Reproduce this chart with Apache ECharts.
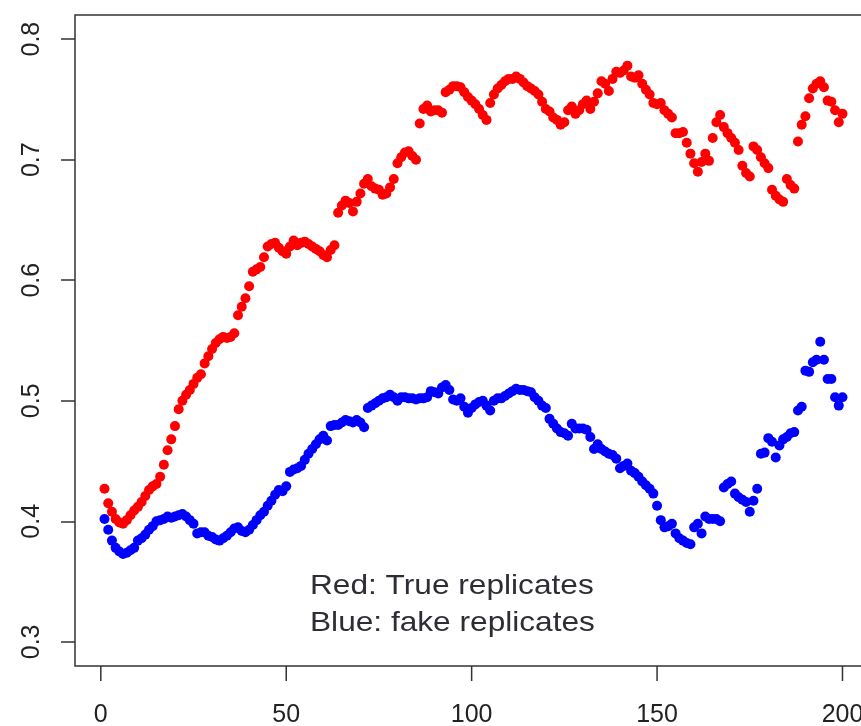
<!DOCTYPE html>
<html>
<head>
<meta charset="utf-8">
<script src="https://cdn.jsdelivr.net/npm/echarts@6/dist/echarts.min.js"></script>
<style>html,body{margin:0;padding:0;background:#fff;}#c{width:861px;height:726px;}</style>
</head>
<body>
<div id="c"></div>
<script>
// values for index 1..200
var trueReplicates = [
0.427,0.415,0.408,0.402,0.399,0.398,0.401,0.405,0.409,0.412,
0.416,0.421,0.426,0.429,0.431,0.437,0.447,0.459,0.468,0.479,
0.493,0.500,0.505,0.509,0.514,0.519,0.522,0.531,0.537,0.543,
0.548,0.551,0.553,0.552,0.553,0.556,0.571,0.578,0.585,0.595,
0.607,0.609,0.611,0.619,0.628,0.630,0.631,0.627,0.624,0.622,
0.628,0.633,0.629,0.631,0.632,0.630,0.628,0.626,0.624,0.621,
0.619,0.625,0.629,0.656,0.662,0.666,0.664,0.657,0.665,0.672,
0.680,0.684,0.678,0.676,0.675,0.671,0.672,0.677,0.684,0.697,
0.702,0.706,0.707,0.703,0.700,0.730,0.742,0.745,0.740,0.741,
0.741,0.739,0.756,0.758,0.761,0.761,0.760,0.756,0.752,0.749,
0.746,0.742,0.737,0.733,0.747,0.754,0.759,0.762,0.765,0.767,
0.767,0.769,0.767,0.764,0.761,0.759,0.757,0.754,0.748,0.742,
0.740,0.735,0.733,0.729,0.731,0.741,0.744,0.738,0.741,0.746,
0.749,0.742,0.748,0.755,0.765,0.763,0.757,0.767,0.773,0.772,
0.774,0.778,0.769,0.768,0.770,0.763,0.758,0.754,0.747,0.746,
0.747,0.741,0.738,0.735,0.722,0.722,0.723,0.714,0.705,0.697,
0.690,0.698,0.705,0.699,0.718,0.731,0.737,0.727,0.722,0.718,
0.714,0.708,0.695,0.689,0.686,0.711,0.708,0.702,0.697,0.693,
0.675,0.670,0.667,0.665,0.684,0.679,0.676,0.715,0.729,0.736,
0.751,0.759,0.763,0.765,0.760,0.749,0.748,0.741,0.731,0.738
];
var fakeReplicates = [
0.402,0.393,0.384,0.378,0.375,0.373,0.374,0.376,0.378,0.384,
0.386,0.389,0.393,0.396,0.400,0.401,0.402,0.404,0.403,0.404,
0.405,0.406,0.404,0.401,0.398,0.390,0.391,0.391,0.388,0.387,
0.385,0.384,0.386,0.388,0.391,0.394,0.395,0.392,0.391,0.393,
0.397,0.401,0.405,0.408,0.413,0.417,0.422,0.426,0.425,0.429,
0.441,0.443,0.444,0.446,0.451,0.456,0.460,0.464,0.468,0.471,
0.467,0.479,0.480,0.480,0.482,0.484,0.483,0.482,0.484,0.482,
0.478,0.494,0.496,0.498,0.500,0.502,0.503,0.505,0.503,0.500,
0.503,0.503,0.502,0.502,0.501,0.502,0.502,0.503,0.508,0.507,
0.506,0.511,0.513,0.509,0.501,0.500,0.502,0.495,0.490,0.494,
0.497,0.499,0.500,0.496,0.492,0.500,0.502,0.502,0.504,0.506,
0.508,0.510,0.509,0.509,0.508,0.507,0.503,0.500,0.496,0.494,
0.485,0.481,0.477,0.474,0.473,0.471,0.481,0.477,0.477,0.477,
0.476,0.470,0.460,0.464,0.460,0.458,0.456,0.455,0.452,0.444,
0.446,0.448,0.442,0.440,0.437,0.433,0.430,0.427,0.423,0.413,
0.401,0.395,0.396,0.398,0.390,0.386,0.384,0.382,0.381,0.395,
0.398,0.390,0.404,0.402,0.402,0.402,0.400,0.428,0.431,0.433,
0.423,0.420,0.418,0.416,0.408,0.417,0.427,0.456,0.457,0.469,
0.466,0.453,0.463,0.468,0.470,0.473,0.474,0.492,0.495,0.525,
0.524,0.532,0.534,0.549,0.534,0.518,0.518,0.503,0.496,0.503
];
var xTicks = [0, 50, 100, 150, 200];
var yTicks = [0.3, 0.4, 0.5, 0.6, 0.7, 0.8];
var legendLines = ['Red: True replicates', 'Blue: fake replicates'];

var xMin = -6.96, xMax = 207.96, yMin = 0.28, yMax = 0.82;

function pairs(arr){ return arr.map(function(v,i){ return [i+1, v]; }); }

var chart = echarts.init(document.getElementById('c'), null, {renderer:'canvas'});
var labelFont = {fontFamily:'Liberation Sans, Arial, sans-serif', fontSize:25, color:'#222'};
chart.setOption({
  animation:false,
  backgroundColor:'#fff',
  grid:{left:75, top:15, width:797, height:651, show:true, borderColor:'#333', borderWidth:1.5, backgroundColor:'transparent', containLabel:false, outerBoundsMode:'none'},
  xAxis:{type:'value', min:xMin, max:xMax,
    axisLine:{show:false, onZero:false}, splitLine:{show:false},
    axisTick:{show:false, customValues:xTicks},
    axisLabel:Object.assign({margin:37, customValues:xTicks, formatter:function(v){return String(v);}}, labelFont)
  },
  yAxis:{type:'value', min:yMin, max:yMax,
    axisLine:{show:false, onZero:false}, splitLine:{show:false},
    axisTick:{show:true, inside:false, length:14, lineStyle:{color:'#333', width:1.5}, customValues:yTicks},
    axisLabel:Object.assign({margin:30, rotate:90, customValues:yTicks, formatter:function(v){return v.toFixed(1);}}, labelFont)
  },
  series:[
    {type:'scatter', data:pairs(trueReplicates), symbol:'circle', symbolSize:10, itemStyle:{color:'#ff0000', opacity:1}, silent:true},
    {type:'scatter', data:pairs(fakeReplicates), symbol:'circle', symbolSize:10, itemStyle:{color:'#0000ff', opacity:1}, silent:true},
    {type:'custom', silent:true, clip:false, z:10,
      data:xTicks.map(function(v){ return [v, yMin]; }),
      renderItem:function(params, api){
        var p = api.coord([api.value(0), api.value(1)]);
        return {type:'line', shape:{x1:p[0], y1:p[1], x2:p[0], y2:p[1] + 15}, style:{stroke:'#333', lineWidth:1.5}};
      }
    }
  ],
  graphic:legendLines.map(function(t, k){
    return {type:'text', x:310, y:586 + k*37, scaleX:1.13, scaleY:1,
      style:{text:t, fill:'#2d2d35', font:'28px "Liberation Sans", Arial, sans-serif', verticalAlign:'middle', align:'left'}};
  })
});
</script>
</body>
</html>
